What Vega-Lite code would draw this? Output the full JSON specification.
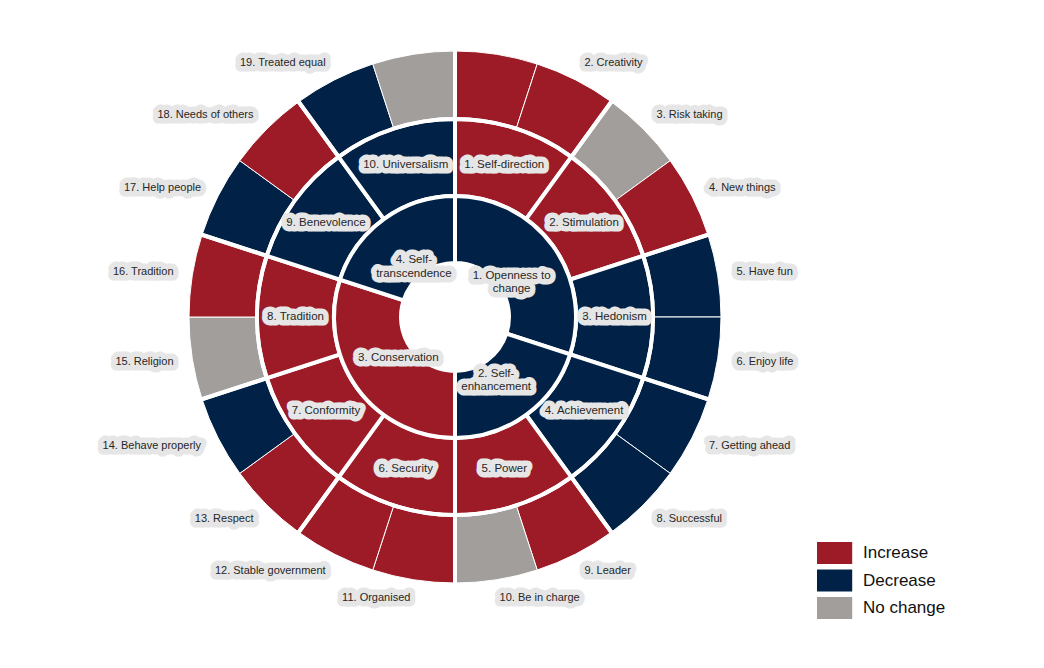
{
  "$schema": "https://vega.github.io/schema/vega-lite/v6.json",
  "width": 910,
  "height": 634,
  "autosize": {"type": "none"},
  "padding": {"left": 0, "top": 0, "right": 134, "bottom": 34},
  "background": "white",
  "config": {"view": {"stroke": null}, "font": "Liberation Sans"},
  "data": {
    "values": [
      {"id": 1, "label": null, "change": "Increase", "value": "1. Self-direction", "vchange": "Increase", "higher": "1. Openness to\nchange", "hchange": "Decrease"},
      {"id": 2, "label": "2. Creativity", "change": "Increase", "value": "1. Self-direction", "vchange": "Increase", "higher": "1. Openness to\nchange", "hchange": "Decrease"},
      {"id": 3, "label": "3. Risk taking", "change": "No change", "value": "2. Stimulation", "vchange": "Increase", "higher": "1. Openness to\nchange", "hchange": "Decrease"},
      {"id": 4, "label": "4. New things", "change": "Increase", "value": "2. Stimulation", "vchange": "Increase", "higher": "1. Openness to\nchange", "hchange": "Decrease"},
      {"id": 5, "label": "5. Have fun", "change": "Decrease", "value": "3. Hedonism", "vchange": "Decrease", "higher": "1. Openness to\nchange", "hchange": "Decrease"},
      {"id": 6, "label": "6. Enjoy life", "change": "Decrease", "value": "3. Hedonism", "vchange": "Decrease", "higher": "1. Openness to\nchange", "hchange": "Decrease"},
      {"id": 7, "label": "7. Getting ahead", "change": "Decrease", "value": "4. Achievement", "vchange": "Decrease", "higher": "2. Self-\nenhancement", "hchange": "Decrease"},
      {"id": 8, "label": "8. Successful", "change": "Decrease", "value": "4. Achievement", "vchange": "Decrease", "higher": "2. Self-\nenhancement", "hchange": "Decrease"},
      {"id": 9, "label": "9. Leader", "change": "Increase", "value": "5. Power", "vchange": "Increase", "higher": "2. Self-\nenhancement", "hchange": "Decrease"},
      {"id": 10, "label": "10. Be in charge", "change": "No change", "value": "5. Power", "vchange": "Increase", "higher": "2. Self-\nenhancement", "hchange": "Decrease"},
      {"id": 11, "label": "11. Organised", "change": "Increase", "value": "6. Security", "vchange": "Increase", "higher": "3. Conservation", "hchange": "Increase"},
      {"id": 12, "label": "12. Stable government", "change": "Increase", "value": "6. Security", "vchange": "Increase", "higher": "3. Conservation", "hchange": "Increase"},
      {"id": 13, "label": "13. Respect", "change": "Increase", "value": "7. Conformity", "vchange": "Increase", "higher": "3. Conservation", "hchange": "Increase"},
      {"id": 14, "label": "14. Behave properly", "change": "Decrease", "value": "7. Conformity", "vchange": "Increase", "higher": "3. Conservation", "hchange": "Increase"},
      {"id": 15, "label": "15. Religion", "change": "No change", "value": "8. Tradition", "vchange": "Increase", "higher": "3. Conservation", "hchange": "Increase"},
      {"id": 16, "label": "16. Tradition", "change": "Increase", "value": "8. Tradition", "vchange": "Increase", "higher": "3. Conservation", "hchange": "Increase"},
      {"id": 17, "label": "17. Help people", "change": "Decrease", "value": "9. Benevolence", "vchange": "Decrease", "higher": "4. Self-\ntranscendence", "hchange": "Decrease"},
      {"id": 18, "label": "18. Needs of others", "change": "Increase", "value": "9. Benevolence", "vchange": "Decrease", "higher": "4. Self-\ntranscendence", "hchange": "Decrease"},
      {"id": 19, "label": "19. Treated equal", "change": "Decrease", "value": "10. Universalism", "vchange": "Decrease", "higher": "4. Self-\ntranscendence", "hchange": "Decrease"},
      {"id": 20, "label": null, "change": "No change", "value": "10. Universalism", "vchange": "Decrease", "higher": "4. Self-\ntranscendence", "hchange": "Decrease"}
    ]
  },
  "layer": [
    {
      "transform": [{"aggregate": [{"op": "count", "as": "n"}, {"op": "min", "field": "id", "as": "first"}], "groupby": ["id", "label", "change"]}],
      "mark": {"type": "arc", "radius": 266, "radius2": 198, "stroke": "white", "strokeWidth": 1},
      "encoding": {
        "theta": {"field": "n", "type": "quantitative", "stack": true},
        "order": {"field": "first", "type": "quantitative", "sort": "ascending"},
        "detail": {"field": "id", "type": "nominal"},
        "color": {
          "field": "change", "type": "nominal",
          "scale": {"domain": ["Increase", "Decrease", "No change"], "range": ["#9C1B27", "#012246", "#A19E9C"]},
          "legend": {"title": null, "orient": "none", "legendX": 823.6, "legendY": 542, "symbolType": "M-1.6,-1H1.6V1H-1.6Z", "symbolSize": 484, "symbolStrokeWidth": 0, "symbolOpacity": 1, "labelFontSize": 17, "labelOffset": 17.4, "rowPadding": 5.5, "padding": 0, "labelColor": "#111111", "labelFont": "Liberation Sans"}
        }
      }
    },
    {
      "transform": [{"aggregate": [{"op": "count", "as": "n"}, {"op": "min", "field": "id", "as": "first"}], "groupby": ["value", "vchange"]}],
      "mark": {"type": "arc", "radius": 198, "radius2": 121, "stroke": "white", "strokeWidth": 4},
      "encoding": {
        "theta": {"field": "n", "type": "quantitative", "stack": true},
        "order": {"field": "first", "type": "quantitative", "sort": "ascending"},
        "detail": {"field": "value", "type": "nominal"},
        "color": {"field": "vchange", "type": "nominal", "scale": {"domain": ["Increase", "Decrease", "No change"], "range": ["#9C1B27", "#012246", "#A19E9C"]}, "legend": null}
      }
    },
    {
      "transform": [{"aggregate": [{"op": "count", "as": "n"}, {"op": "min", "field": "id", "as": "first"}], "groupby": ["higher", "hchange"]}],
      "mark": {"type": "arc", "radius": 121, "radius2": 54, "stroke": "white", "strokeWidth": 4},
      "encoding": {
        "theta": {"field": "n", "type": "quantitative", "stack": true},
        "order": {"field": "first", "type": "quantitative", "sort": "ascending"},
        "detail": {"field": "higher", "type": "nominal"},
        "color": {"field": "hchange", "type": "nominal", "scale": {"domain": ["Increase", "Decrease", "No change"], "range": ["#9C1B27", "#012246", "#A19E9C"]}, "legend": null}
      }
    },
    {
      "transform": [{"aggregate": [{"op": "count", "as": "n"}, {"op": "min", "field": "id", "as": "first"}], "groupby": ["value"]}],
      "mark": {"type": "arc", "radius": 269, "radius2": 198, "fill": "transparent", "stroke": "white", "strokeWidth": 4},
      "encoding": {
        "theta": {"field": "n", "type": "quantitative", "stack": true},
        "order": {"field": "first", "type": "quantitative", "sort": "ascending"},
        "detail": {"field": "value", "type": "nominal"}
      }
    },
    {
      "transform": [{"aggregate": [{"op": "count", "as": "n"}, {"op": "min", "field": "id", "as": "first"}], "groupby": ["id", "label"]}],
      "mark": {"type": "text", "radius": 285, "align": "left", "baseline": "middle", "fontSize": 11, "fill": "#e6e6e6", "stroke": "#e6e6e6", "strokeWidth": 11, "strokeJoin": "round"},
      "encoding": {
        "theta": {"field": "n", "type": "quantitative", "stack": true},
        "order": {"field": "first", "type": "quantitative", "sort": "ascending"},
        "detail": {"field": "id", "type": "nominal"},
        "text": {"condition": {"test": "datum.first <= 10 && isValid(datum.label)", "field": "label"}, "value": ""}
      }
    },
    {
      "transform": [{"aggregate": [{"op": "count", "as": "n"}, {"op": "min", "field": "id", "as": "first"}], "groupby": ["id", "label"]}],
      "mark": {"type": "text", "radius": 285, "align": "left", "baseline": "middle", "fontSize": 11, "fill": "#262626"},
      "encoding": {
        "theta": {"field": "n", "type": "quantitative", "stack": true},
        "order": {"field": "first", "type": "quantitative", "sort": "ascending"},
        "detail": {"field": "id", "type": "nominal"},
        "text": {"condition": {"test": "datum.first <= 10 && isValid(datum.label)", "field": "label"}, "value": ""}
      }
    },
    {
      "transform": [{"aggregate": [{"op": "count", "as": "n"}, {"op": "min", "field": "id", "as": "first"}], "groupby": ["id", "label"]}],
      "mark": {"type": "text", "radius": 285, "align": "right", "baseline": "middle", "fontSize": 11, "fill": "#e6e6e6", "stroke": "#e6e6e6", "strokeWidth": 11, "strokeJoin": "round"},
      "encoding": {
        "theta": {"field": "n", "type": "quantitative", "stack": true},
        "order": {"field": "first", "type": "quantitative", "sort": "ascending"},
        "detail": {"field": "id", "type": "nominal"},
        "text": {"condition": {"test": "datum.first > 10 && isValid(datum.label)", "field": "label"}, "value": ""}
      }
    },
    {
      "transform": [{"aggregate": [{"op": "count", "as": "n"}, {"op": "min", "field": "id", "as": "first"}], "groupby": ["id", "label"]}],
      "mark": {"type": "text", "radius": 285, "align": "right", "baseline": "middle", "fontSize": 11, "fill": "#262626"},
      "encoding": {
        "theta": {"field": "n", "type": "quantitative", "stack": true},
        "order": {"field": "first", "type": "quantitative", "sort": "ascending"},
        "detail": {"field": "id", "type": "nominal"},
        "text": {"condition": {"test": "datum.first > 10 && isValid(datum.label)", "field": "label"}, "value": ""}
      }
    },
    {
      "transform": [{"aggregate": [{"op": "count", "as": "n"}, {"op": "min", "field": "id", "as": "first"}], "groupby": ["value"]}],
      "mark": {"type": "text", "radius": 159.5, "align": "center", "baseline": "middle", "fontSize": 11.5, "fill": "#e6e6e6", "stroke": "#e6e6e6", "strokeWidth": 11, "strokeJoin": "round"},
      "encoding": {
        "theta": {"field": "n", "type": "quantitative", "stack": true},
        "order": {"field": "first", "type": "quantitative", "sort": "ascending"},
        "detail": {"field": "value", "type": "nominal"},
        "text": {"field": "value"}
      }
    },
    {
      "transform": [{"aggregate": [{"op": "count", "as": "n"}, {"op": "min", "field": "id", "as": "first"}], "groupby": ["value"]}],
      "mark": {"type": "text", "radius": 159.5, "align": "center", "baseline": "middle", "fontSize": 11.5, "fill": "#262626"},
      "encoding": {
        "theta": {"field": "n", "type": "quantitative", "stack": true},
        "order": {"field": "first", "type": "quantitative", "sort": "ascending"},
        "detail": {"field": "value", "type": "nominal"},
        "text": {"field": "value"}
      }
    },
    {
      "transform": [{"aggregate": [{"op": "count", "as": "n"}, {"op": "min", "field": "id", "as": "first"}], "groupby": ["higher"]}],
      "mark": {"type": "text", "radius": 70, "align": "center", "baseline": "middle", "fontSize": 11.5, "lineBreak": "\n", "lineHeight": 13.5, "fill": "#e6e6e6", "stroke": "#e6e6e6", "strokeWidth": 11, "strokeJoin": "round"},
      "encoding": {
        "theta": {"field": "n", "type": "quantitative", "stack": true},
        "order": {"field": "first", "type": "quantitative", "sort": "ascending"},
        "detail": {"field": "higher", "type": "nominal"},
        "text": {"field": "higher"}
      }
    },
    {
      "transform": [{"aggregate": [{"op": "count", "as": "n"}, {"op": "min", "field": "id", "as": "first"}], "groupby": ["higher"]}],
      "mark": {"type": "text", "radius": 70, "align": "center", "baseline": "middle", "fontSize": 11.5, "lineBreak": "\n", "lineHeight": 13.5, "fill": "#262626"},
      "encoding": {
        "theta": {"field": "n", "type": "quantitative", "stack": true},
        "order": {"field": "first", "type": "quantitative", "sort": "ascending"},
        "detail": {"field": "higher", "type": "nominal"},
        "text": {"field": "higher"}
      }
    }
  ]
}
